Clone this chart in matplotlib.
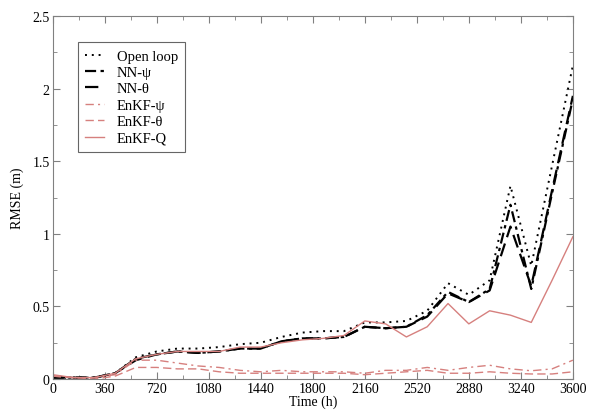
import matplotlib.pyplot as plt
from matplotlib.ticker import MultipleLocator

# time axis (h), sampled every 6 days
time_h = [0, 144, 288, 432, 576, 720, 864, 1008, 1152, 1296, 1440, 1584, 1728,
          1872, 2016, 2160, 2304, 2448, 2592, 2736, 2880, 3024, 3168, 3312, 3456, 3600]

open_loop = [0.02, 0.01, 0.01, 0.04, 0.15, 0.19, 0.21, 0.21, 0.22, 0.24, 0.25, 0.29, 0.32,
             0.33, 0.33, 0.39, 0.39, 0.40, 0.47, 0.66, 0.58, 0.68, 1.33, 0.78, 1.47, 2.16]
nn_psi = [0.01, 0.01, 0.01, 0.04, 0.14, 0.17, 0.19, 0.18, 0.19, 0.21, 0.21, 0.26, 0.28,
          0.28, 0.29, 0.36, 0.35, 0.36, 0.44, 0.60, 0.53, 0.62, 1.20, 0.62, 1.28, 1.93]
nn_theta = [0.01, 0.01, 0.01, 0.04, 0.13, 0.17, 0.19, 0.18, 0.19, 0.21, 0.21, 0.26, 0.28,
            0.28, 0.29, 0.36, 0.35, 0.36, 0.43, 0.59, 0.53, 0.61, 1.05, 0.64, 1.30, 1.95]
enkf_psi = [0.02, 0.01, 0.01, 0.03, 0.13, 0.13, 0.11, 0.09, 0.08, 0.06, 0.05, 0.06, 0.05,
            0.05, 0.05, 0.04, 0.06, 0.06, 0.08, 0.06, 0.08, 0.095, 0.07, 0.057, 0.07, 0.13]
enkf_theta = [0.02, 0.01, 0.0, 0.02, 0.08, 0.08, 0.07, 0.07, 0.05, 0.04, 0.04, 0.04, 0.04,
              0.04, 0.04, 0.03, 0.04, 0.05, 0.06, 0.04, 0.04, 0.05, 0.04, 0.035, 0.035, 0.05]
enkf_q = [0.03, 0.01, 0.01, 0.04, 0.14, 0.17, 0.19, 0.19, 0.19, 0.22, 0.22, 0.25, 0.27,
          0.28, 0.30, 0.40, 0.38, 0.29, 0.36, 0.52, 0.38, 0.47, 0.44, 0.39, 0.68, 0.98]

RED = "#d6807e"

plt.rcParams["font.family"] = "Liberation Serif"
plt.rcParams["font.size"] = 10

fig = plt.figure(figsize=(5.98, 4.14), dpi=100)
ax = fig.add_axes([0.088, 0.082, 0.870, 0.877])

ax.plot(time_h, open_loop, color="black", linestyle=(0, (1, 2.5)), lw=1.4, label="Open loop")
ax.plot(time_h, nn_psi, color="black", linestyle=(0, (5, 2, 1.5, 2)), lw=1.6, label="NN-ψ")
ax.plot(time_h, nn_theta, color="black", linestyle=(0, (6, 3)), lw=1.6, label="NN-θ")
ax.plot(time_h, enkf_psi, color=RED, linestyle=(0, (6, 3, 1.5, 3)), lw=1.0, label="EnKF-ψ")
ax.plot(time_h, enkf_theta, color=RED, linestyle=(0, (6, 3)), lw=1.0, label="EnKF-θ")
ax.plot(time_h, enkf_q, color=RED, linestyle="-", lw=1.0, label="EnKF-Q")

ax.set_xlim(0, 3600)
ax.set_ylim(0, 2.5)
ax.xaxis.set_major_locator(MultipleLocator(360))
ax.xaxis.set_minor_locator(MultipleLocator(180))
ax.yaxis.set_major_locator(MultipleLocator(0.5))
ax.yaxis.set_minor_locator(MultipleLocator(0.25))
ax.yaxis.set_major_formatter(plt.FuncFormatter(lambda v, p: f"{v:g}"))

ax.tick_params(which="both", direction="in", top=True, right=True, color="#808080", pad=2)
ax.tick_params(which="major", length=5)
ax.tick_params(which="minor", length=3)
for s in ax.spines.values():
    s.set_color("#808080")

ax.set_xlabel("Time (h)", labelpad=0)
ax.set_ylabel("RMSE (m)", labelpad=6)

leg = ax.legend(loc="upper left", bbox_to_anchor=(0.049, 0.928), frameon=True,
                fancybox=False, edgecolor="#404040", fontsize=10.5, handlelength=1.3,
                borderpad=0.5, labelspacing=0.22, handletextpad=0.85, borderaxespad=0)
leg.get_frame().set_linewidth(0.8)

fig.savefig("out.png", dpi=100)
